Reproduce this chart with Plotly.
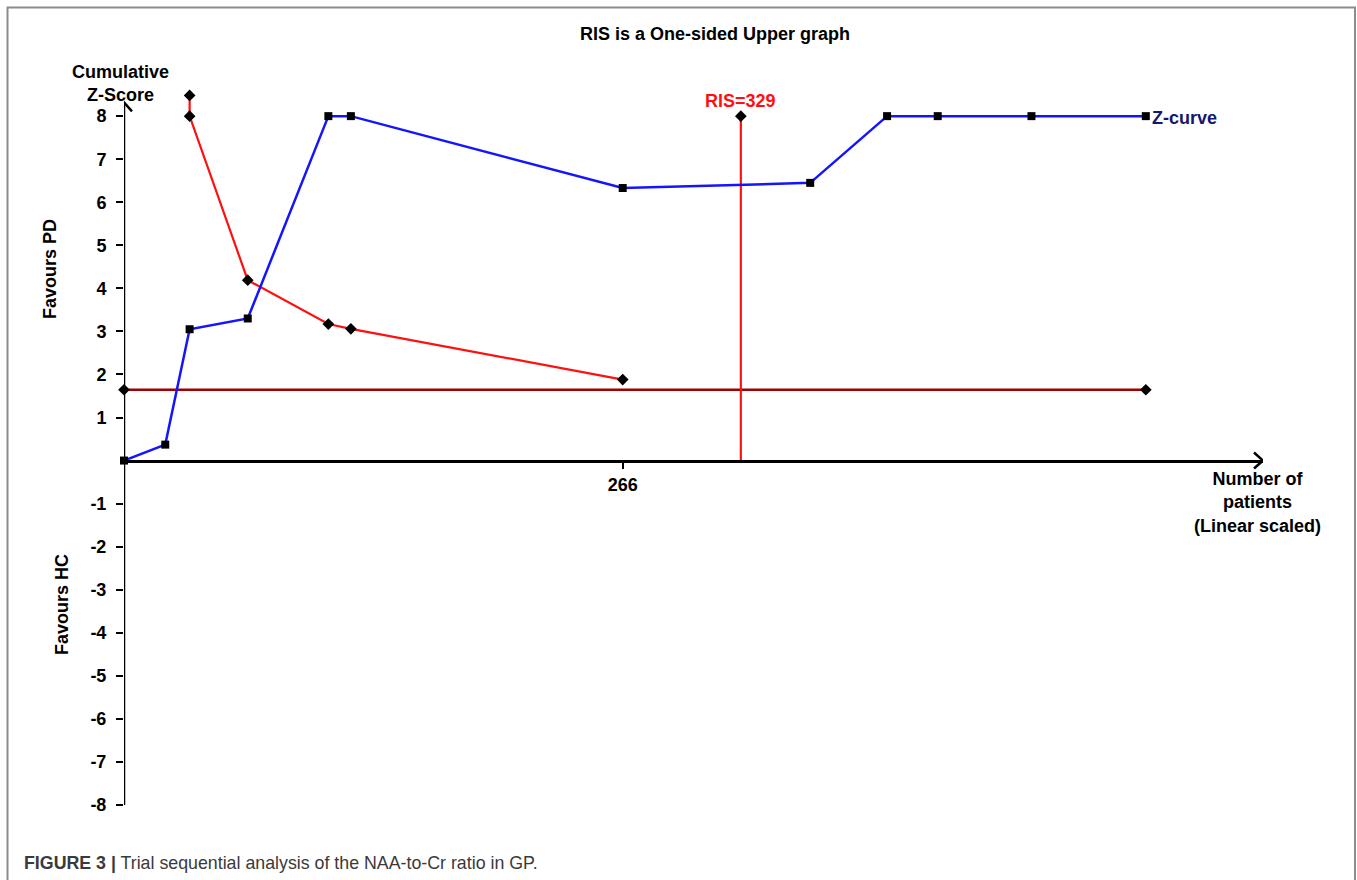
import plotly.graph_objects as go

# ---- data ----
z_patients = [0, 22, 35, 66, 109, 121, 266, 366, 407, 434, 484, 545]
z_scores = [0, 0.37, 3.05, 3.30, 8.0, 8.0, 6.33, 6.45, 8.0, 8.0, 8.0, 8.0]

bound_patients = [35, 35, 66, 109, 121, 266]
bound_scores = [8.48, 8.0, 4.19, 3.17, 3.06, 1.88]

conv_patients = [0, 545]
conv_scores = [1.645, 1.645]

ris_value = 329
ris_line_scores = [0, 8]

y_tick_vals = [8, 7, 6, 5, 4, 3, 2, 1, -1, -2, -3, -4, -5, -6, -7, -8]
y_tick_text = ["8", "7", "6", "5", "4", "3", "2", "1",
               "-1", "-2", "-3", "-4", "-5", "-6", "-7", "-8"]
x_tick_vals = [266]
x_tick_text = ["266"]

# ---- layout geometry (page pixels; body margin removed) ----
OFF = 0
W, H = 1357, 880
ML, MR, MT, MB = 124, 94, 86, 75
PW, PH = W - ML - MR, H - MT - MB
X_RANGE = [0, 607.5]
Y_RANGE = [-8.001, 8.7]
X_ARROW = 607.5
Y_ARROW = 8.32

def px(xp):  # page pixel -> paper
    return (xp - OFF - ML) / PW

def py(yp):
    return (H - MB - (yp - OFF)) / PH

FONT = "Liberation Sans, Arial, sans-serif"

fig = go.Figure()

# horizontal conventional boundary
fig.add_trace(go.Scatter(
    x=conv_patients, y=conv_scores, mode="lines+markers",
    line=dict(color="#a00000", width=2.5),
    marker=dict(symbol="diamond", size=9, color="black"),
    cliponaxis=False, showlegend=False, hoverinfo="skip"))

# RIS vertical line
fig.add_trace(go.Scatter(
    x=[ris_value, ris_value], y=ris_line_scores, mode="lines",
    line=dict(color="#ff1010", width=2.2),
    cliponaxis=False, showlegend=False, hoverinfo="skip"))
fig.add_trace(go.Scatter(
    x=[ris_value], y=[ris_line_scores[-1]], mode="markers",
    marker=dict(symbol="diamond", size=9, color="black"),
    cliponaxis=False, showlegend=False, hoverinfo="skip"))

# monitoring boundary
fig.add_trace(go.Scatter(
    x=bound_patients, y=bound_scores, mode="lines+markers",
    line=dict(color="#ff1010", width=2.2),
    marker=dict(symbol="diamond", size=9, color="black"),
    cliponaxis=False, showlegend=False, hoverinfo="skip"))

# Z-curve
fig.add_trace(go.Scatter(
    x=z_patients, y=z_scores, mode="lines+markers",
    line=dict(color="#1414ff", width=2.5),
    marker=dict(symbol="square", size=8, color="black"),
    cliponaxis=False, showlegend=False, hoverinfo="skip"))

shapes = []
# y axis line (from -8 up to arrow tip)
shapes.append(dict(type="line", xref="x", yref="y", x0=0, x1=0,
                   y0=-8, y1=Y_ARROW, line=dict(color="black", width=2.5),
                   layer="below"))
# arrowheads (chevrons)
shapes.append(dict(type="path", xref="x", yref="y",
                   xsizemode="pixel", ysizemode="pixel",
                   xanchor=X_ARROW, yanchor=0,
                   path="M -9,-8 L 0,0 L -9,8",
                   line=dict(color="black", width=2.5)))
shapes.append(dict(type="path", xref="x", yref="y",
                   xsizemode="pixel", ysizemode="pixel",
                   xanchor=0, yanchor=Y_ARROW,
                   path="M -8,-9 L 0,0 L 8,-9",
                   line=dict(color="black", width=2.5)))
# figure border
shapes.append(dict(type="rect", xref="paper", yref="paper",
                   x0=px(7.5), x1=px(1355), y0=py(905), y1=py(7.5),
                   line=dict(color="#8c8c8c", width=2), layer="below"))

annotations = []
def txt(text, x, y, size=18, color="black", angle=0, xanchor="center",
        yanchor="middle", align="center", font=FONT):
    annotations.append(dict(text=text, x=px(x), y=py(y), xref="paper",
                            yref="paper", showarrow=False, xanchor=xanchor,
                            yanchor=yanchor, align=align, textangle=angle,
                            font=dict(family=font, size=size, color=color)))

txt("<b>RIS is a One-sided Upper graph</b>", 715, 34)
txt("<b>Cumulative<br>Z-Score</b>", 120, 83)
txt("<b>Favours PD</b>", 50, 269, angle=-90)
txt("<b>Favours HC</b>", 62, 605, angle=-90)
txt("<b>Number of<br>patients<br>(Linear scaled)</b>", 1257, 502)
txt("<b>Z-curve</b>", 1150, 118, color="#16166e", xanchor="left")
txt("<b>FIGURE 3 |</b> Trial sequential analysis of the NAA-to-Cr ratio in GP.",
    22, 863, size=17.8, color="#3a3a3a", xanchor="left", align="left")

annotations.append(dict(text="<b>RIS=329</b>", x=ris_value, y=8, xref="x",
                        yref="y", showarrow=False, yanchor="bottom",
                        yshift=3, font=dict(family=FONT, size=18,
                                            color="#ff1010")))

fig.update_layout(
    width=W, height=H,
    margin=dict(l=ML, r=MR, t=MT, b=MB),
    paper_bgcolor="white", plot_bgcolor="white",
    shapes=shapes, annotations=annotations,
    xaxis=dict(range=X_RANGE, anchor="free",
               position=(0 - Y_RANGE[0]) / (Y_RANGE[1] - Y_RANGE[0]),
               showline=True, linecolor="black", linewidth=2.5,
               showgrid=False, zeroline=False,
               tickvals=x_tick_vals,
               ticktext=["<b>%s</b>" % t for t in x_tick_text],
               ticks="outside", ticklen=7, tickwidth=2, tickcolor="black",
               tickfont=dict(family=FONT, size=18, color="black"),
               fixedrange=True),
    yaxis=dict(range=Y_RANGE, showline=False,
               showgrid=False, zeroline=False,
               tickvals=y_tick_vals,
               ticktext=["<b>%s</b>" % t for t in y_tick_text],
               ticks="outside", ticklen=7, tickwidth=2, tickcolor="black",
               ticklabelstandoff=6,
               tickfont=dict(family=FONT, size=18, color="black"),
               fixedrange=True),
)

fig.write_html("out.html", config={"displayModeBar": False},
               post_script="document.body.style.margin='0';"
                           "document.body.style.overflow='hidden';")
